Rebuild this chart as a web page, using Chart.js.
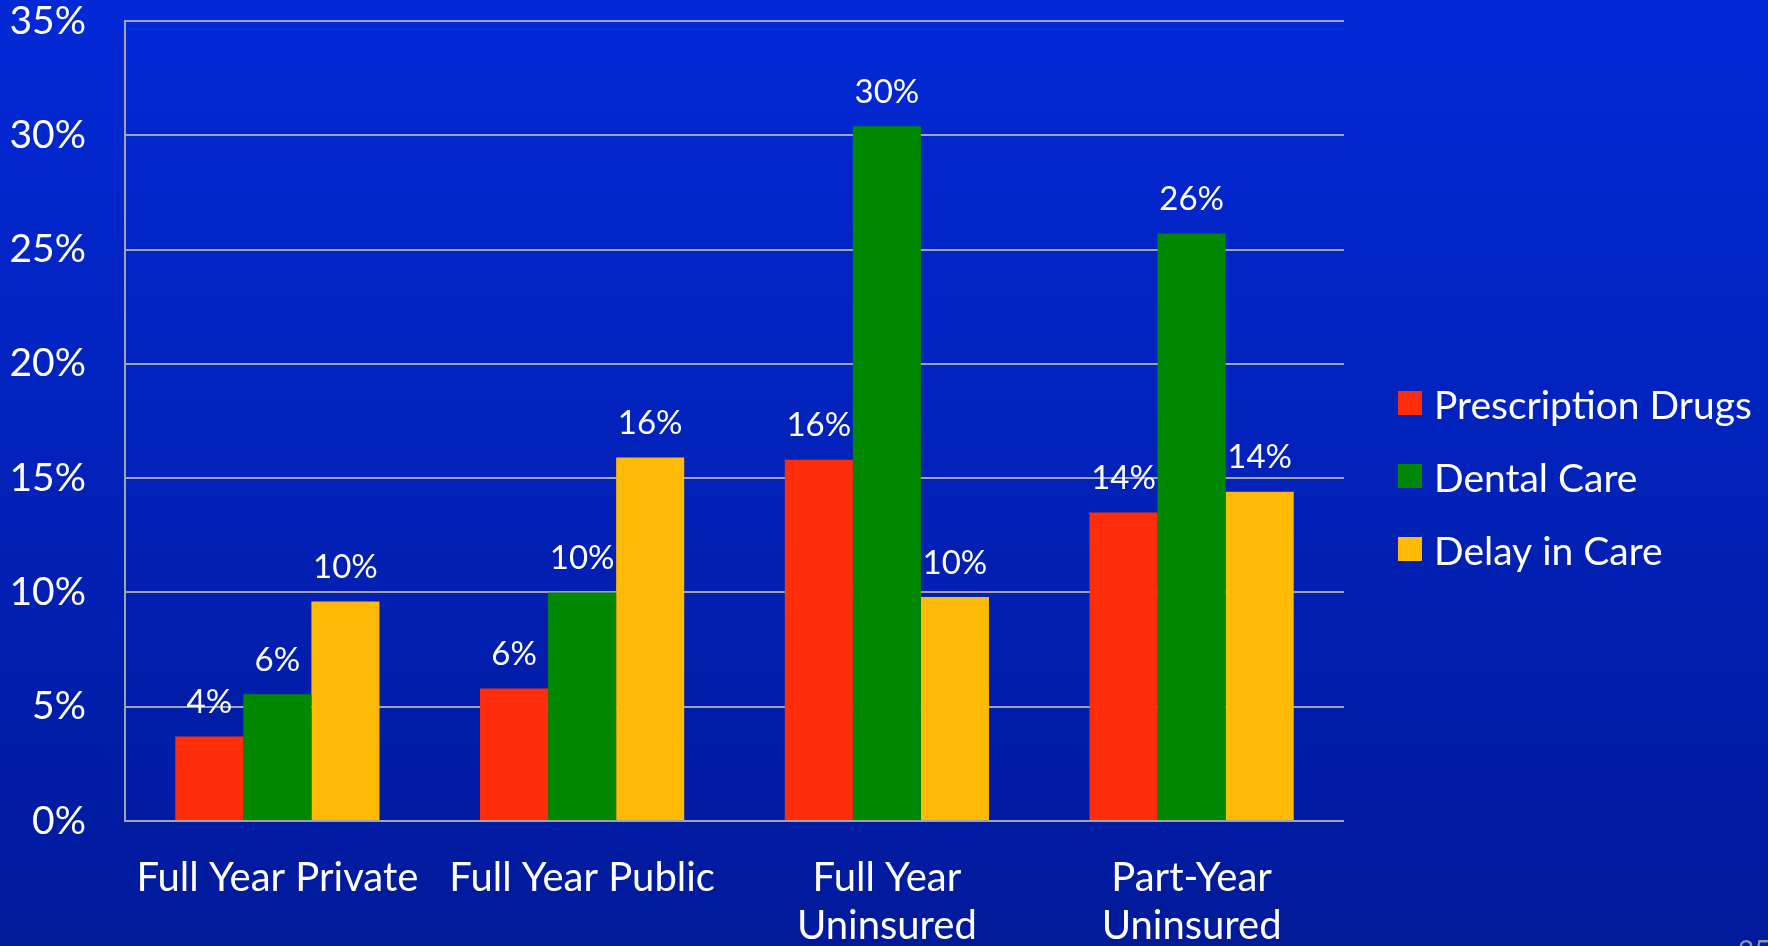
<!DOCTYPE html>
<html>
<head>
<meta charset="utf-8">
<script src="https://cdn.jsdelivr.net/npm/chart.js@4.4.1/dist/chart.umd.min.js"></script>
<style>
  html, body { margin: 0; padding: 0; background: #0322c0; overflow: hidden; }
  #wrap { width: 1768px; height: 946px; }
</style>
</head>
<body>
<div id="wrap"><canvas id="accessChart" width="1768" height="946"></canvas></div>
<script>
// unmet need by insurance status (percent of group)
const categories = ['Full Year Private', 'Full Year Public', ['Full Year', 'Uninsured'], ['Part-Year', 'Uninsured']];
const seriesNames = ['Prescription Drugs', 'Dental Care', 'Delay in Care'];
const prescriptionDrugs = [3.7, 5.8, 15.8, 13.5];
const dentalCare = [5.55, 10.0, 30.4, 25.7];
const delayInCare = [9.6, 15.9, 9.8, 14.4];
const yTicks = [0, 5, 10, 15, 20, 25, 30, 35];

const FONT = "Lato, 'Open Sans', sans-serif";
const seriesColors = ['#ff2d0a', '#008800', '#ffba08'];

// slide-style blue gradient behind everything
const backgroundPlugin = {
    id: 'slideBackground',
    beforeDraw(chart) {
        const { ctx, width, height } = chart;
        const g = ctx.createLinearGradient(0, 0, 0, height);
        g.addColorStop(0, '#0329d7');
        g.addColorStop(1, '#001a9a');
        ctx.save();
        ctx.fillStyle = g;
        ctx.fillRect(0, 0, width, height);
        ctx.restore();
    }
};

// rounded value above each bar
const valueLabels = {
    id: 'valueLabels',
    afterDatasetsDraw(chart) {
        const { ctx } = chart;
        ctx.save();
        ctx.font = `33px ${FONT}`;
        ctx.fillStyle = '#ffffff';
        ctx.textAlign = 'center';
        ctx.textBaseline = 'middle';
        chart.data.datasets.forEach((ds, di) => {
            chart.getDatasetMeta(di).data.forEach((bar, i) => {
                ctx.fillText(Math.round(ds.data[i]) + '%', bar.x, bar.y - 34);
            });
        });
        ctx.restore();
    }
};

// legend on the right + slide number in the corner
const sideLegend = {
    id: 'sideLegend',
    afterDraw(chart) {
        const { ctx } = chart;
        ctx.save();
        ctx.font = `39px ${FONT}`;
        ctx.textAlign = 'left';
        ctx.textBaseline = 'middle';
        chart.data.datasets.forEach((ds, i) => {
            const cy = 403 + i * 73;
            ctx.fillStyle = ds.backgroundColor;
            ctx.fillRect(1398, cy - 12, 24, 24);
            ctx.fillStyle = '#ffffff';
            ctx.fillText(ds.label, 1434, cy + 3);
        });
        ctx.font = `28px ${FONT}`;
        ctx.fillStyle = '#8c92b8';
        ctx.textBaseline = 'alphabetic';
        ctx.fillText('25', 1738, 961);
        ctx.restore();
    }
};

const ctx = document.getElementById('accessChart').getContext('2d');

new Chart(ctx, {
    type: 'bar',
    data: {
        labels: categories,
        datasets: [
            { label: seriesNames[0], data: prescriptionDrugs, backgroundColor: seriesColors[0] },
            { label: seriesNames[1], data: dentalCare, backgroundColor: seriesColors[1] },
            { label: seriesNames[2], data: delayInCare, backgroundColor: seriesColors[2] }
        ]
    },
    options: {
        responsive: false,
        animation: false,
        devicePixelRatio: 1,
        layout: { padding: { left: 0, right: 424, top: 21, bottom: 0 } },
        datasets: {
            bar: { categoryPercentage: 0.67, barPercentage: 1.0, borderWidth: 0 }
        },
        plugins: {
            legend: { display: false },
            tooltip: { enabled: false }
        },
        scales: {
            x: {
                grid: { display: false, drawTicks: false },
                border: { display: false },
                ticks: {
                    color: '#ffffff',
                    padding: 33,
                    maxRotation: 0,
                    autoSkip: false,
                    font: { family: FONT, size: 40, lineHeight: 48 / 40 }
                },
                afterFit(scale) { scale.height = 125; }
            },
            y: {
                min: 0,
                max: 35,
                afterBuildTicks(scale) { scale.ticks = yTicks.map(v => ({ value: v })); },
                grid: { color: '#a3a3ad', lineWidth: 2, drawTicks: false },
                border: { display: true, color: '#a3a3ad', width: 2 },
                ticks: {
                    color: '#ffffff',
                    padding: 39,
                    font: { family: FONT, size: 39, lineHeight: 1 },
                    callback: v => v + '%'
                },
                afterFit(scale) {
                    // fixed axis width; keep the label gap from eating into the plot height
                    scale.width = 125;
                    scale.paddingTop = 18;
                    scale.paddingBottom = 18;
                }
            }
        }
    },
    plugins: [backgroundPlugin, valueLabels, sideLegend]
});
</script>
</body>
</html>
